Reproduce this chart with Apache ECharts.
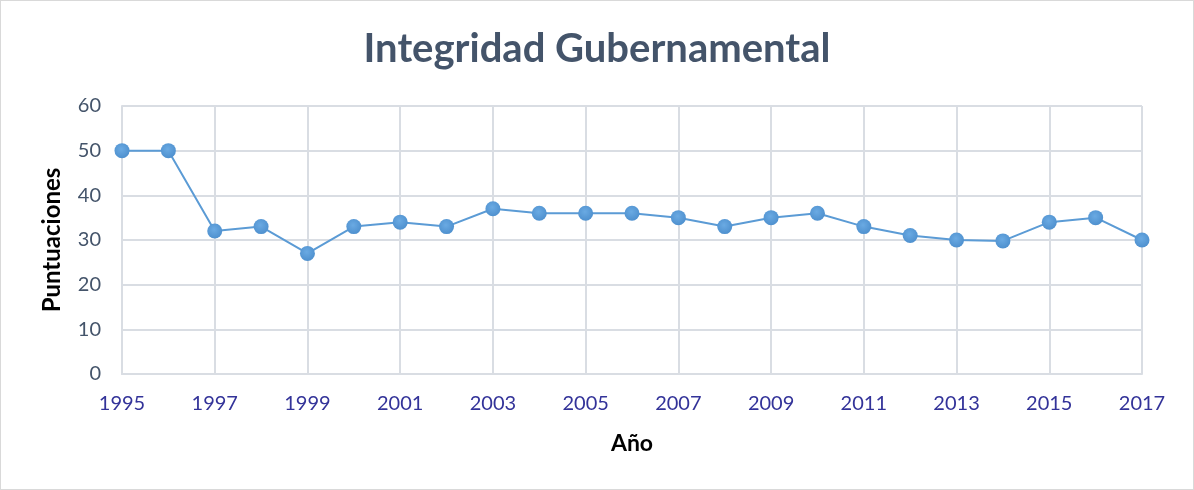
<!DOCTYPE html>
<html>
<head>
<meta charset="utf-8">
<script src="https://cdn.jsdelivr.net/npm/echarts@6/dist/echarts.min.js"></script>
<style>
  html, body { margin: 0; padding: 0; background: #fff; }
  #chart { width: 1194px; height: 490px; box-sizing: border-box; border: 1px solid #d9d9d9; }
</style>
</head>
<body>
<div id="chart"></div>
<script>
// Data
const years = ["1995", "1996", "1997", "1998", "1999", "2000", "2001", "2002", "2003", "2004", "2005", "2006",
  "2007", "2008", "2009", "2010", "2011", "2012", "2013", "2014", "2015", "2016", "2017"];
const scores = [50, 50, 32, 33, 27, 33, 34, 33, 37, 36, 36, 36, 35, 33, 35, 36, 33, 31, 30, 29.8, 34, 35, 30];

const chart = echarts.init(document.getElementById("chart"), null, { renderer: "canvas" });

const gridColor = "#d9dde3";

chart.setOption({
  animation: false,
  title: {
    text: "Integridad Gubernamental",
    left: "center",
    top: 23,
    textStyle: { fontFamily: "Lato", fontSize: 40, fontWeight: "bold", color: "#44546a" },
  },
  grid: { left: 121, right: 51, top: 105, bottom: 115 },
  xAxis: {
    type: "category",
    data: years,
    boundaryGap: false,
    name: "Año",
    nameLocation: "middle",
    nameGap: 58,
    nameTextStyle: { fontFamily: "Lato", fontSize: 23, fontWeight: "bold", color: "#000" },
    axisLine: { lineStyle: { color: gridColor, width: 2 } },
    axisTick: { show: false },
    axisLabel: { interval: 1, margin: 20, fontFamily: "Lato", fontSize: 20, color: "#333399" },
    splitLine: { show: true, interval: 1, lineStyle: { color: gridColor, width: 2 } },
  },
  yAxis: {
    type: "value",
    min: 0,
    max: 60,
    interval: 10,
    name: "Puntuaciones",
    nameLocation: "middle",
    nameGap: 58,
    nameTextStyle: { fontFamily: "Lato", fontSize: 24, fontWeight: "bold", color: "#000" },
    axisLine: { show: true, lineStyle: { color: gridColor, width: 2 } },
    axisTick: { show: false },
    axisLabel: { margin: 21, fontFamily: "Lato", fontSize: 20, color: "#44546a" },
    splitLine: { lineStyle: { color: gridColor, width: 2 } },
  },
  series: [
    {
      type: "line",
      data: scores,
      symbol: "circle",
      symbolSize: 15,
      lineStyle: { color: "#5b9bd5", width: 2 },
      itemStyle: {
        color: new echarts.graphic.RadialGradient(0.45, 0.4, 0.7, [
          { offset: 0, color: "#6aaae3" },
          { offset: 1, color: "#4a8ccb" },
        ]),
      },
    },
  ],
});
</script>
</body>
</html>
